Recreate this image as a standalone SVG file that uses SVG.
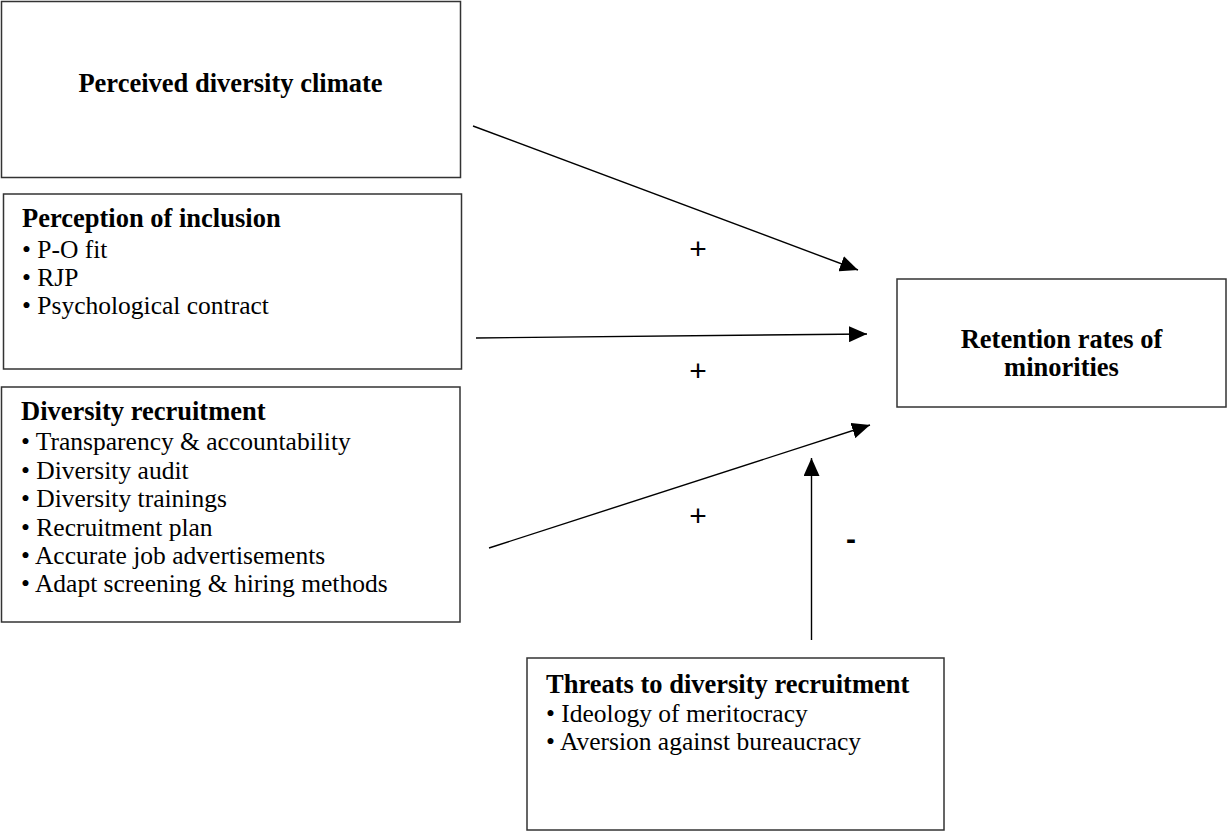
<svg xmlns="http://www.w3.org/2000/svg" width="1227" height="832" viewBox="0 0 1227 832">
<style>
.box{fill:#fff;stroke:#333;stroke-width:1.5}
.h{font-family:"Liberation Serif","Times New Roman",serif;font-weight:bold;font-size:26.5px;fill:#000}
.t{font-family:"Liberation Serif","Times New Roman",serif;font-size:25.5px;fill:#000}
.lbl{font-family:"Liberation Sans",Arial,sans-serif;font-size:30px;fill:#000}
.c{stroke:#000;stroke-width:1.4;fill:none;marker-end:url(#ah)}
</style>
<defs>
<marker id="ah" viewBox="0 0 18 16" refX="18" refY="8" markerWidth="18" markerHeight="16" markerUnits="userSpaceOnUse" orient="auto">
<path d="M0,0 L18,8 L0,16 z" fill="#000"/>
</marker>
</defs>
<rect width="1227" height="832" fill="#fff"/>
<g id="climate">
<rect class="box" x="1.5" y="1.5" width="459" height="176"/>
<text class="h" x="230.5" y="92" text-anchor="middle">Perceived diversity climate</text>
</g>
<g id="inclusion">
<rect class="box" x="3.5" y="194" width="458" height="175"/>
<text class="h" x="22" y="227">Perception of inclusion</text>
<text class="t" x="22" y="258">• P-O fit</text>
<text class="t" x="22" y="286">• RJP</text>
<text class="t" x="22" y="314">• Psychological contract</text>
</g>
<g id="recruitment">
<rect class="box" x="1.5" y="387" width="458.5" height="235"/>
<text class="h" x="21" y="420">Diversity recruitment</text>
<text class="t" x="21" y="450">• Transparency &amp; accountability</text>
<text class="t" x="21" y="479">• Diversity audit</text>
<text class="t" x="21" y="507">• Diversity trainings</text>
<text class="t" x="21" y="536">• Recruitment plan</text>
<text class="t" x="21" y="564">• Accurate job advertisements</text>
<text class="t" x="21" y="592">• Adapt screening &amp; hiring methods</text>
</g>
<g id="retention">
<rect class="box" x="897" y="279" width="329" height="128"/>
<text class="h" x="1061.5" y="348" text-anchor="middle">Retention rates of</text>
<text class="h" x="1061.5" y="376" text-anchor="middle">minorities</text>
</g>
<g id="threats">
<rect class="box" x="527" y="658" width="417" height="172"/>
<text class="h" x="546" y="693">Threats to diversity recruitment</text>
<text class="t" x="546" y="722">• Ideology of meritocracy</text>
<text class="t" x="546" y="750">• Aversion against bureaucracy</text>
</g>
<g id="connectors">
<line class="c" x1="473" y1="126" x2="858" y2="270"/>
<line class="c" x1="476" y1="338" x2="867" y2="334"/>
<line class="c" x1="489" y1="548" x2="870" y2="425"/>
<line class="c" x1="811.5" y1="640" x2="811.5" y2="458"/>
<text class="lbl" x="698" y="259" text-anchor="middle">+</text>
<text class="lbl" x="698" y="381" text-anchor="middle">+</text>
<text class="lbl" x="698" y="526" text-anchor="middle">+</text>
<text class="lbl" x="851" y="549" text-anchor="middle" font-weight="bold" font-size="26">-</text>
</g>
</svg>
